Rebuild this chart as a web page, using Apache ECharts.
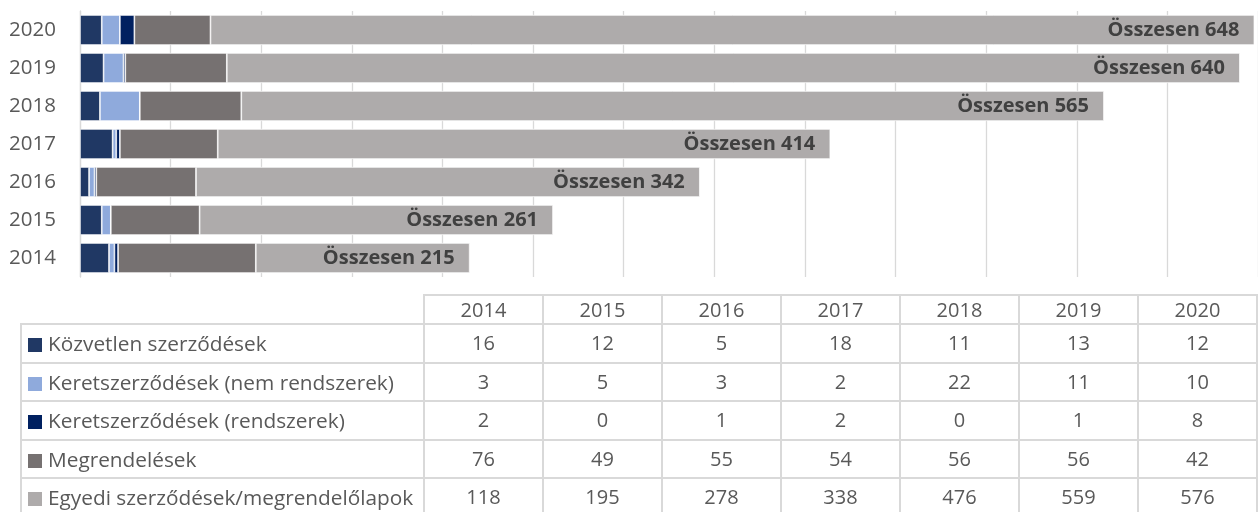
<!DOCTYPE html>
<html>
<head>
<meta charset="utf-8">
<title>Szerződések évenként</title>
<script src="https://cdn.jsdelivr.net/npm/echarts@6/dist/echarts.min.js"></script>
<style>
    body { margin: 0; background: #fff; }
    #wrap { position: relative; width: 1258px; height: 512px; overflow: hidden; }
    #chart { position: absolute; left: 0; top: 0; width: 1258px; height: 512px; }
    #tbl {
        position: absolute; left: 20px; top: 294px;
        border-collapse: collapse; table-layout: fixed;
        font-family: "Open Sans", sans-serif; font-size: 20px; color: #595959;
    }
    #tbl td { border: 2px solid #d9d9d9; padding: 0; text-align: center; white-space: nowrap; overflow: hidden; }
    #tbl td.name { text-align: left; padding-left: 6px; font-size: 20.8px; }
    #tbl td.corner { border-top: none; border-left: none; }
    #tbl tr.head td { height: 27px; line-height: 27px; }
    #tbl tr.row td { height: 36.5px; line-height: 36px; }
    .key { display: inline-block; width: 14px; height: 14px; margin-right: 6px; vertical-align: -1px; }
</style>
</head>
<body>
<div id="wrap">
    <div id="chart"></div>
    <table id="tbl"></table>
</div>
<script>
    // adatok
    var years = ['2014', '2015', '2016', '2017', '2018', '2019', '2020'];
    var seriesNames = [
        'Közvetlen szerződések',
        'Keretszerződések (nem rendszerek)',
        'Keretszerződések (rendszerek)',
        'Megrendelések',
        'Egyedi szerződések/megrendelőlapok'
    ];
    var kozvetlen = [16, 12, 5, 18, 11, 13, 12];
    var keretNem = [3, 5, 3, 2, 22, 11, 10];
    var keretRendszer = [2, 0, 1, 2, 0, 1, 8];
    var megrendelesek = [76, 49, 55, 54, 56, 56, 42];
    var egyedi = [118, 195, 278, 338, 476, 559, 576];
    var colors = ['#203864', '#8faadc', '#002060', '#767171', '#aeabab'];

    var values = [kozvetlen, keretNem, keretRendszer, megrendelesek, egyedi];
    var totals = years.map(function(y, i) {
        return values.reduce(function(s, arr) { return s + arr[i]; }, 0);
    });

    var series = values.map(function(data, k) {
        var s = {
            name: seriesNames[k],
            type: 'bar',
            stack: 'total',
            data: data,
            barCategoryGap: '21%',
            itemStyle: { color: colors[k], borderColor: '#ffffff', borderWidth: 0.7 },
            emphasis: { disabled: true }
        };
        if (k === values.length - 1) {
            s.label = {
                show: true,
                position: 'insideRight',
                distance: 15,
                color: '#404040',
                fontFamily: 'Open Sans',
                fontWeight: 'bold',
                fontSize: 20,
                formatter: function(p) {
                    return 'Összesen ' + totals[p.dataIndex];
                }
            };
        }
        return s;
    });

    var chart = echarts.init(document.getElementById('chart'), null, { renderer: 'canvas' });
    chart.setOption({
        animation: false,
        grid: { left: 80, top: 11, width: 1181, height: 266, containLabel: false },
        xAxis: {
            type: 'value',
            min: 0,
            max: 650,
            interval: 50,
            axisLabel: { show: false },
            axisLine: { show: false },
            axisTick: { show: false },
            splitLine: { lineStyle: { color: '#d9d9d9', width: 1.3 } }
        },
        yAxis: {
            type: 'category',
            data: years,
            axisLine: { lineStyle: { color: '#d9d9d9', width: 1.3 } },
            axisTick: { length: 7, lineStyle: { color: '#d9d9d9', width: 1.3 } },
            axisLabel: { margin: 24, color: '#595959', fontFamily: 'Open Sans', fontSize: 20.5 }
        },
        series: series
    });

    // adattábla a diagram alatt
    var tbl = document.getElementById('tbl');
    var html = '<colgroup><col style="width:403px">';
    years.forEach(function() { html += '<col style="width:119.2px">'; });
    html += '</colgroup><tr class="head"><td class="corner"></td>';
    years.forEach(function(y) { html += '<td>' + y + '</td>'; });
    html += '</tr>';
    values.forEach(function(data, k) {
        html += '<tr class="row"><td class="name"><span class="key" style="background:' + colors[k] + '"></span>' + seriesNames[k] + '</td>';
        data.forEach(function(v) { html += '<td>' + v + '</td>'; });
        html += '</tr>';
    });
    tbl.innerHTML = html;
</script>
</body>
</html>
